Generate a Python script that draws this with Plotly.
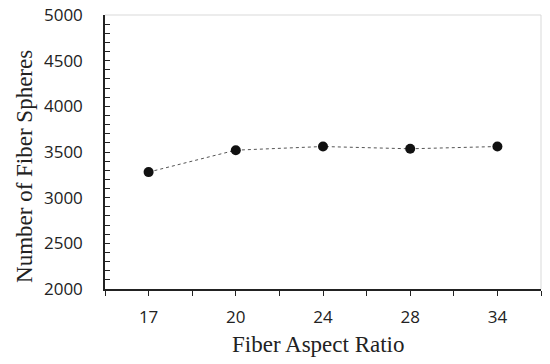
import plotly.graph_objects as go

categories = ["17", "20", "24", "28", "34"]
values = [3280, 3520, 3560, 3535, 3560]
y_ticks = [2000, 2500, 3000, 3500, 4000, 4500, 5000]

xpos = list(range(len(categories)))
tickvals = [i * 0.5 - 0.5 for i in range(2 * len(categories) + 1)]
ticktext = [categories[int(v)] if float(v).is_integer() and 0 <= v < len(categories) else "" for v in tickvals]

tick_font = dict(family="Open Sans, Liberation Sans, sans-serif", size=17, color="#222")
title_font = dict(family="Liberation Serif, Times New Roman, serif", size=23, color="#222")

fig = go.Figure()
fig.add_trace(go.Scatter(
    x=xpos, y=values, mode="lines+markers",
    line=dict(color="#555555", width=1, dash="dot"),
    marker=dict(color="#111111", size=10),
    showlegend=False,
))

fig.update_layout(
    width=550, height=364,
    margin=dict(l=105, r=9, t=15, b=75),
    paper_bgcolor="white", plot_bgcolor="white",
    xaxis=dict(
        range=[-0.5, len(categories) - 0.5],
        tickvals=tickvals, ticktext=ticktext,
        ticks="outside", ticklen=5, tickcolor="#222", tickwidth=1.2,
        showline=True, linecolor="#222", linewidth=1.5,
        showgrid=False, zeroline=False, automargin=False,
        tickfont=tick_font,
        ticklabelstandoff=7,
        ticklabeloverflow="allow",
    ),
    yaxis=dict(
        range=[2000, 5000],
        tickvals=y_ticks,
        ticks="inside", ticklen=5, tickcolor="#222", tickwidth=1.2,
        minor=dict(dtick=100, ticks="inside", ticklen=5, tickcolor="#222", tickwidth=1.2),
        showline=True, linecolor="#222", linewidth=1.5,
        showgrid=False, zeroline=False, automargin=False,
        tickfont=tick_font,
        ticklabelstandoff=17,
        ticklabeloverflow="allow",
    ),
    shapes=[
        dict(type="line", xref="paper", yref="paper", x0=0, x1=1, y0=1, y1=1, line=dict(color="#d9d9d9", width=1)),
        dict(type="line", xref="paper", yref="paper", x0=1, x1=1, y0=0, y1=1, line=dict(color="#d9d9d9", width=1)),
    ],
    annotations=[
        dict(text="Fiber Aspect Ratio", xref="paper", yref="paper", x=0.4885, y=-0.204,
             xanchor="center", yanchor="middle", showarrow=False, font=title_font),
        dict(text="Number of Fiber Spheres", xref="paper", yref="paper", x=-0.1835, y=0.449,
             xanchor="center", yanchor="middle", textangle=-90, showarrow=False, font=title_font),
    ],
)

fig.write_html("out.html", config={"displayModeBar": False},
               post_script="document.body.style.margin='0';")
